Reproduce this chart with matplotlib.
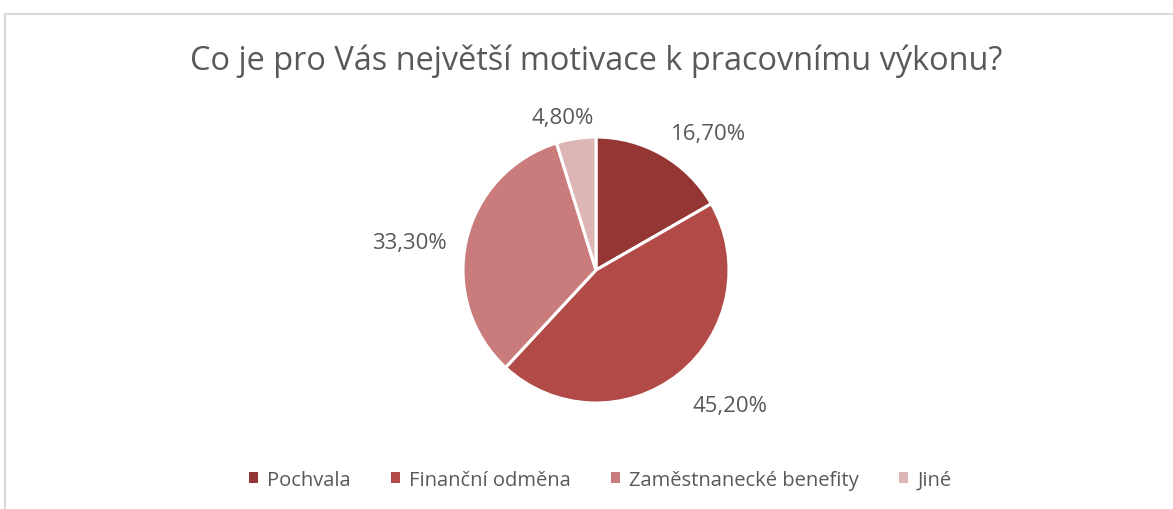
import numpy as np
import matplotlib.pyplot as plt
from matplotlib.lines import Line2D
from matplotlib.patches import Patch

plt.rcParams['font.family'] = ['Open Sans', 'DejaVu Sans']

title = 'Co je pro Vás největší motivace k pracovnímu výkonu?'
categories = ['Pochvala', 'Finanční odměna', 'Zaměstnanecké benefity', 'Jiné']
shares = [16.7, 45.2, 33.3, 4.8]
colors = ['#943634', '#B24A48', '#C97C7B', '#DEB5B5']
txt = '#595959'

W, H = 1173, 510
fig = plt.figure(figsize=(W/100, H/100), dpi=100)

# chart area border (only top and left visible in the crop)
fig.add_artist(Line2D([5/W, 5/W], [0, 1 - 14.5/H], color='#D9D9D9', lw=1.5))
fig.add_artist(Line2D([5/W, 1], [1 - 14.5/H, 1 - 14.5/H], color='#D9D9D9', lw=1.5))

fig.text(596/W, 1 - 61/H, title, ha='center', va='center', fontsize=23.4, color=txt)

cx, cy, R = 596, 271, 133
side = 2.5*R
ax = fig.add_axes([(cx - side/2)/W, (H - cy - side/2)/H, side/W, side/H])
labels = [f'{v:.2f}%'.replace('.', ',') for v in shares]
wedges, texts = ax.pie(shares, colors=colors, startangle=90, counterclock=False,
                       labels=labels, labeldistance=1.12,
                       wedgeprops=dict(edgecolor='white', linewidth=2.2),
                       textprops=dict(color=txt, fontsize=16))
# nudge labels the way Excel's best fit puts them
x, y = texts[0].get_position(); texts[0].set_position((x, y + 0.06))
x, y = texts[1].get_position(); texts[1].set_position((x + 0.03, y - 0.14))
x, y = texts[2].get_position(); texts[2].set_position((x - 0.03, y - 0.04))
x, y = texts[3].get_position(); texts[3].set_position((x + 0.15, y + 0.04))
ax.set_xlim(-1.25, 1.25)
ax.set_ylim(-1.25, 1.25)

handles = [Patch(facecolor=c, edgecolor='none') for c in colors]
fig.legend(handles, categories, loc='center', bbox_to_anchor=(600/W, 1 - 481/H), ncol=4,
           frameon=False, fontsize=14.5, labelcolor=txt, handlelength=0.45, handleheight=0.45,
           handletextpad=0.45, columnspacing=2.0)

fig.savefig('out.png', dpi=100, facecolor='white')
